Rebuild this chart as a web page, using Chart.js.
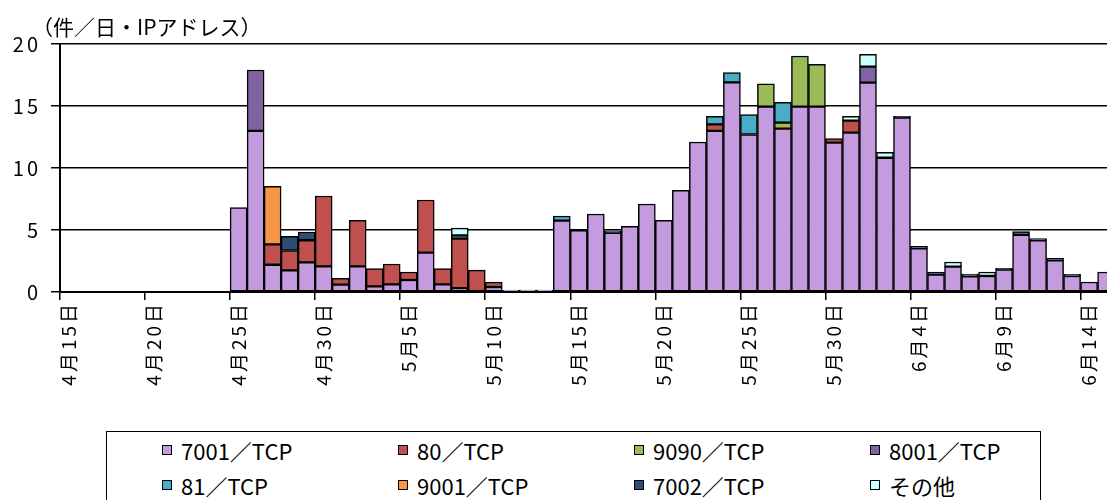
<!DOCTYPE html>
<html>
<head>
<meta charset="utf-8">
<script src="https://cdn.jsdelivr.net/npm/chart.js@4.4.1/dist/chart.umd.min.js"></script>
<style>
body { margin: 0; overflow: hidden; background: #fff; font-family: "Noto Sans CJK JP", sans-serif; }
#wrap { position: relative; width: 1107px; height: 500px; overflow: hidden; }
#chart { position: absolute; left: 0; top: 0; }
#legend {
    position: absolute; left: 106px; top: 431px; width: 935px; height: 72px;
    border: 1.5px solid #000; box-sizing: border-box;
    display: grid; grid-template-columns: repeat(4, 236px); grid-template-rows: 35px 35px;
    padding-left: 55px; padding-top: 0px;
}
.item { display: flex; align-items: center; font-size: 22px; color: #000; white-space: nowrap; }
.swatch { width: 8px; height: 8px; border: 1px solid #000; margin-right: 9px; }
</style>
</head>
<body>
<div id="wrap">
<canvas id="chart" width="1130" height="400"></canvas>
<div id="legend"></div>
</div>
<script>
const dates = [
    '4月15日','4月16日','4月17日','4月18日','4月19日','4月20日','4月21日','4月22日','4月23日','4月24日',
    '4月25日','4月26日','4月27日','4月28日','4月29日','4月30日','5月1日','5月2日','5月3日','5月4日',
    '5月5日','5月6日','5月7日','5月8日','5月9日','5月10日','5月11日','5月12日','5月13日','5月14日',
    '5月15日','5月16日','5月17日','5月18日','5月19日','5月20日','5月21日','5月22日','5月23日','5月24日',
    '5月25日','5月26日','5月27日','5月28日','5月29日','5月30日','5月31日','6月1日','6月2日','6月3日',
    '6月4日','6月5日','6月6日','6月7日','6月8日','6月9日','6月10日','6月11日','6月12日','6月13日',
    '6月14日','6月15日'
];

const tcp7001 = [0,0,0,0,0,0,0,0,0,0,
    6.8,13.0,2.2,1.75,2.39,2.07,0.59,2.07,0.46,0.62,
    0.97,3.17,0.62,0.3,0,0.4,0.15,0.15,0.15,5.75,
    4.97,6.29,4.78,5.3,7.1,5.78,8.2,12.1,13.0,16.9,
    12.7,14.95,13.17,14.95,14.95,12.04,12.85,16.88,10.83,14.06,
    3.52,1.4,2.04,1.26,1.29,1.8,4.62,4.17,2.55,1.29,
    0.81,1.61];
const tcp80 = [0,0,0,0,0,0,0,0,0,0,
    0,0,1.64,1.6,1.78,5.67,0.51,3.71,1.42,1.64,
    0.64,4.25,1.26,4.0,1.77,0.4,0,0,0,0,
    0,0,0,0,0,0,0,0,0.52,0,
    0,0,0,0,0,0.33,0.97,0,0,0,
    0,0,0,0,0,0,0,0,0,0,
    0,0];
const tcp9090 = [0,0,0,0,0,0,0,0,0,0,
    0,0,0,0,0,0,0,0,0,0,
    0,0,0,0,0,0,0,0,0,0,
    0,0,0,0,0,0,0,0,0,0,
    0,1.83,0.49,4.08,3.41,0,0,0,0,0,
    0,0,0,0,0,0,0,0,0,0,
    0,0];
const tcp8001 = [0,0,0,0,0,0,0,0,0,0,
    0,4.9,0,0,0,0,0,0,0,0,
    0,0,0,0,0,0,0,0,0,0,
    0,0,0,0,0,0,0,0,0,0,
    0,0,0,0,0,0,0,1.29,0,0,
    0,0,0,0,0,0,0,0,0,0,
    0,0];
const tcp81 = [0,0,0,0,0,0,0,0,0,0,
    0,0,0,0,0,0,0,0,0,0,
    0,0,0,0,0,0,0,0,0,0.38,
    0,0,0,0,0,0,0,0,0.65,0.8,
    1.6,0,1.64,0,0,0,0,0,0,0,
    0,0,0,0,0,0,0,0,0,0,
    0,0];
const tcp9001 = [0,0,0,0,0,0,0,0,0,0,
    0,0,4.68,0,0,0,0,0,0,0,
    0,0,0,0,0,0,0,0,0,0,
    0,0,0,0,0,0,0,0,0,0,
    0,0,0,0,0,0,0,0,0,0,
    0,0,0,0,0,0,0,0,0,0,
    0,0];
const tcp7002 = [0,0,0,0,0,0,0,0,0,0,
    0,0,0,1.13,0.67,0,0,0,0,0,
    0,0,0,0.27,0,0,0,0,0,0,
    0,0,0.15,0,0,0,0,0,0,0,
    0,0,0,0,0,0,0,0,0,0.1,
    0.16,0.2,0,0.19,0,0.1,0.25,0.13,0.16,0.13,
    0,0];
const others = [0,0,0,0,0,0,0,0,0,0,
    0,0,0,0,0,0,0,0,0,0,
    0,0,0,0.59,0,0,0,0,0,0,
    0,0,0,0,0,0,0,0,0,0,
    0,0,0,0,0,0,0.35,1.0,0.43,0,
    0,0,0.38,0,0.32,0,0,0,0,0,
    0,0];

const series = [
    { label: '7001／TCP', data: tcp7001, color: '#C49BDE' },
    { label: '80／TCP', data: tcp80, color: '#C0504D' },
    { label: '9090／TCP', data: tcp9090, color: '#9BBB59' },
    { label: '8001／TCP', data: tcp8001, color: '#8064A2' },
    { label: '81／TCP', data: tcp81, color: '#4BACC6' },
    { label: '9001／TCP', data: tcp9001, color: '#F79646' },
    { label: '7002／TCP', data: tcp7002, color: '#2C4D75' },
    { label: 'その他', data: others, color: '#CCFFFF' }
];

const fontFamily = '"Noto Sans CJK JP", sans-serif';

// 目盛りの文字を少し広げる / y軸の単位
const unitLabel = {
    id: 'unitLabel',
    beforeDraw(chart) {
        chart.ctx.letterSpacing = '3px';
    },
    afterDraw(chart) {
        const ctx = chart.ctx;
        ctx.letterSpacing = '0px';
        ctx.save();
        ctx.fillStyle = '#000';
        ctx.font = '21px ' + fontFamily;
        ctx.textBaseline = 'middle';
        ctx.fillText('（件／日・IPアドレス）', 32, 27);
        ctx.restore();
    }
};

const chart = new Chart(document.querySelector('#chart').getContext('2d'), {
    type: 'bar',
    data: {
        labels: dates,
        datasets: series.map(s => ({
            label: s.label,
            data: s.data.map(v => v === 0 ? null : v),
            backgroundColor: s.color,
            borderColor: '#000',
            borderWidth: 1.5,
            borderSkipped: false,
            barPercentage: 1,
            categoryPercentage: 1
        }))
    },
    options: {
        responsive: false,
        animation: false,
        layout: { padding: { top: 44, right: 11, left: 0, bottom: 0 } },
        plugins: {
            legend: { display: false },
            tooltip: { enabled: false }
        },
        scales: {
            x: {
                stacked: true,
                offset: true,
                grid: {
                    offset: true,
                    drawOnChartArea: false,
                    tickLength: 8,
                    lineWidth: 1.5,
                    tickColor: ctx => ctx.index % 5 === 0 ? '#000' : 'rgba(0,0,0,0)',
                    color: ctx => ctx.index % 5 === 0 ? '#000' : 'rgba(0,0,0,0)'
                },
                border: { color: '#000', width: 2 },
                ticks: {
                    autoSkip: false,
                    maxRotation: 90,
                    minRotation: 90,
                    padding: 1,
                    color: '#000',
                    font: { size: 19, family: fontFamily },
                    callback: (v, i) => i % 5 === 0 ? dates[i] : ''
                },
                afterFit: scale => { scale.height = 108; }
            },
            y: {
                stacked: true,
                min: 0,
                max: 20,
                grid: { color: '#000', lineWidth: 1.5, tickLength: 9 },
                border: { color: '#000', width: 2 },
                ticks: {
                    stepSize: 5,
                    padding: 10,
                    color: '#000',
                    font: { size: 20, family: fontFamily }
                },
                afterFit: scale => { scale.width = 60; }
            }
        }
    },
    plugins: [unitLabel]
});

const legend = document.querySelector('#legend');
chart.data.datasets.forEach(ds => {
    const item = document.createElement('div');
    item.className = 'item';
    const sw = document.createElement('span');
    sw.className = 'swatch';
    sw.style.background = ds.backgroundColor;
    item.appendChild(sw);
    item.appendChild(document.createTextNode(ds.label));
    legend.appendChild(item);
});
</script>
</body>
</html>
